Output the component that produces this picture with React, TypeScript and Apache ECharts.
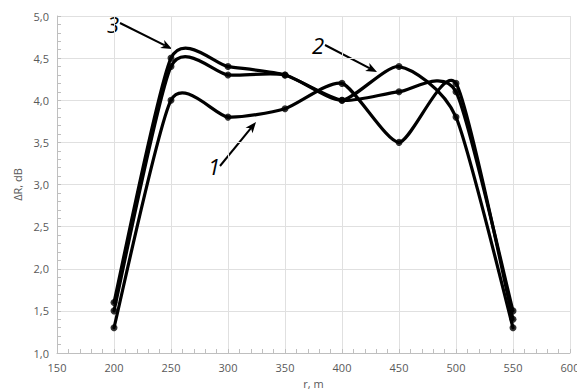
import React, { useEffect, useRef } from "react";
import * as echarts from "echarts";

const xValues = [200, 250, 300, 350, 400, 450, 500, 550];
const series1 = [1.3, 4.0, 3.8, 3.9, 4.2, 3.5, 4.2, 1.4];
const series2 = [1.5, 4.4, 4.3, 4.3, 4.0, 4.4, 3.8, 1.3];
const series3 = [1.6, 4.5, 4.4, 4.3, 4.0, 4.1, 4.1, 1.5];
const seriesNames = ["1", "2", "3"];

type Arrow = { label: string; lx: number; ly: number; x1: number; y1: number; x2: number; y2: number };
const arrows: Arrow[] = [
  { label: "3", lx: 113, ly: 24, x1: 120, y1: 23, x2: 172, y2: 49 },
  { label: "2", lx: 318, ly: 45, x1: 325, y1: 45, x2: 377, y2: 72 },
  { label: "1", lx: 214, ly: 166, x1: 220, y1: 166, x2: 256, y2: 122 },
];

const TENSION = 0.11;

function arrowGraphics(a: Arrow) {
  const dx = a.x2 - a.x1;
  const dy = a.y2 - a.y1;
  const len = Math.sqrt(dx * dx + dy * dy);
  const ux = dx / len;
  const uy = dy / len;
  const hl = 11;
  const hw = 4.5;
  const sw = 1;
  const bx = a.x2 - ux * hl;
  const by = a.y2 - uy * hl;
  const ex = bx + ux * 3;
  const ey = by + uy * 3;
  return [
    {
      type: "polygon",
      shape: {
        points: [
          [a.x1 - uy * sw, a.y1 + ux * sw],
          [ex - uy * sw, ey + ux * sw],
          [ex + uy * sw, ey - ux * sw],
          [a.x1 + uy * sw, a.y1 - ux * sw],
        ],
      },
      style: { fill: "#000" },
    },
    {
      type: "polygon",
      shape: {
        points: [
          [a.x2, a.y2],
          [bx - uy * hw, by + ux * hw],
          [bx + ux * 3, by + uy * 3],
          [bx + uy * hw, by - ux * hw],
        ],
      },
      style: { fill: "#000" },
    },
    {
      type: "text",
      x: a.lx,
      y: a.ly,
      style: {
        text: a.label,
        font: "italic 22px 'Open Sans', sans-serif",
        fill: "#000",
        align: "center",
        verticalAlign: "middle",
      },
    },
  ];
}

function smoothSeries(vals: number[], name: string) {
  return {
    name,
    type: "custom",
    data: xValues.map((x, j) => [x, vals[j]]),
    encode: { x: 0, y: 1 },
    renderItem: (params: any, api: any) => {
      const i = params.dataIndex;
      const n = xValues.length;
      if (i >= n - 1) return null;
      const pt = (k: number) => {
        const kk = Math.max(0, Math.min(n - 1, k));
        return api.coord([xValues[kk], vals[kk]]);
      };
      const p0 = pt(i - 1);
      const p1 = pt(i);
      const p2 = pt(i + 1);
      const p3 = pt(i + 2);
      return {
        type: "bezierCurve",
        shape: {
          x1: p1[0],
          y1: p1[1],
          x2: p2[0],
          y2: p2[1],
          cpx1: p1[0] + (p2[0] - p0[0]) * TENSION,
          cpy1: p1[1] + (p2[1] - p0[1]) * TENSION,
          cpx2: p2[0] - (p3[0] - p1[0]) * TENSION,
          cpy2: p2[1] - (p3[1] - p1[1]) * TENSION,
        },
        style: { stroke: "#000", lineWidth: 3.2, fill: null, lineCap: "round" },
      };
    },
  };
}

export default function App() {
  const ref = useRef<HTMLDivElement>(null);
  useEffect(() => {
    if (!ref.current) return;
    const chart = echarts.init(ref.current, undefined, { renderer: "svg" });
    const all = [series1, series2, series3];
    const axisText = { color: "#595959", fontSize: 11, fontFamily: "'Open Sans', sans-serif" };
    chart.setOption({
      animation: false,
      grid: { left: 57, right: 7, top: 16, bottom: 37, outerBoundsMode: "none", containLabel: false },
      xAxis: {
        type: "value",
        min: 150,
        max: 600,
        interval: 50,
        name: "r, m",
        nameLocation: "middle",
        nameGap: 24,
        nameTextStyle: axisText,
        axisLabel: { ...axisText, margin: 9 },
        axisLine: { show: true, lineStyle: { color: "#bfbfbf" } },
        axisTick: { show: true, inside: true, length: 4, lineStyle: { color: "#bfbfbf" } },
        minorTick: { show: true, splitNumber: 5, length: 4, lineStyle: { color: "#bfbfbf" } },
        splitLine: { show: true, lineStyle: { color: "#e0e0e0" } },
      },
      yAxis: {
        type: "value",
        min: 1,
        max: 5,
        interval: 0.5,
        name: "ΔR, dB",
        nameLocation: "middle",
        nameGap: 28,
        nameTextStyle: axisText,
        axisLabel: {
          ...axisText,
          margin: 8,
          formatter: (v: number) => v.toFixed(1).replace(".", ","),
        },
        axisLine: { show: true, lineStyle: { color: "#bfbfbf" } },
        axisTick: { show: true, inside: true, length: 4, lineStyle: { color: "#bfbfbf" } },
        minorTick: { show: true, splitNumber: 5, length: 4, lineStyle: { color: "#bfbfbf" } },
        splitLine: { show: true, lineStyle: { color: "#e0e0e0" } },
      },
      series: [
        ...all.map((vals, i) => smoothSeries(vals, seriesNames[i])),
        ...all.map((vals, i) => ({
          name: seriesNames[i] + " points",
          type: "scatter",
          data: xValues.map((x, j) => [x, vals[j]]),
          symbol: "circle",
          symbolSize: 7,
          itemStyle: { color: "#000" },
          z: 3,
        })),
      ],
      graphic: arrows.flatMap(arrowGraphics),
    });
    return () => chart.dispose();
  }, []);
  return <div ref={ref} style={{ width: 577, height: 390, position: "absolute", left: 0, top: 0 }} />;
}
